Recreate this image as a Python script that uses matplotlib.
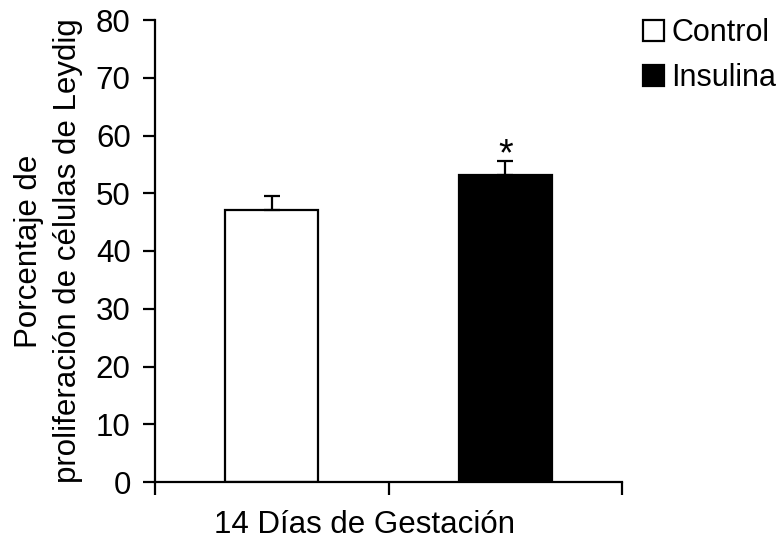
import matplotlib.pyplot as plt

plt.rcParams['font.family'] = ['Liberation Sans', 'DejaVu Sans']

# Data
groups = ['Control', 'Insulina']
values = [47.1, 53.1]
errors = [2.5, 2.4]
colors = ['white', 'black']
positions = [0.5, 1.5]

fig = plt.figure(figsize=(7.84, 5.4), dpi=100)
ax = fig.add_axes([155 / 784, 58 / 540, 467 / 784, 462 / 540])

bars = []
for pos, val, err, col, name in zip(positions, values, errors, colors, groups):
    b = ax.bar(pos, val, width=0.4, color=col, edgecolor='black', linewidth=1.6, label=name, zorder=2)
    ax.errorbar(pos, val, yerr=[[0], [err]], fmt='none', ecolor='black', elinewidth=1.6,
                capsize=6, capthick=1.6, zorder=3)
    bars.append(b)

# significance mark
ax.text(positions[1], values[1] + errors[1] + 1.1, '*', ha='center', va='center', fontsize=27)

ax.set_xlim(0, 2)
ax.set_ylim(0, 80)
ax.set_yticks(range(0, 81, 10))
ax.set_xticks([0, 1, 2])
ax.tick_params(axis='y', direction='out', length=8.5, width=1.6, labelsize=22.5, pad=9)
ax.tick_params(axis='x', direction='out', length=9, width=1.6, labelbottom=False)
for s in ['top', 'right']:
    ax.spines[s].set_visible(False)
for s in ['left', 'bottom']:
    ax.spines[s].set_linewidth(1.6)

ax.set_xlabel('14 Días de Gestación', fontsize=22.5, labelpad=11)
ax.xaxis.label.set_x((364 - 155) / 467)
ax.set_ylabel('Porcentaje de\nproliferación de células de Leydig', fontsize=22.5, labelpad=9,
              linespacing=1.4)

fig.legend(handles=[b[0] for b in bars], labels=groups, loc='upper left',
           bbox_to_anchor=(643 / 784, 1 - 18 / 540), frameon=False, fontsize=22,
           handlelength=0.68, handleheight=0.68, handletextpad=0.25, labelspacing=0.5,
           borderpad=0, borderaxespad=0)

fig.savefig('out.png', dpi=100)
